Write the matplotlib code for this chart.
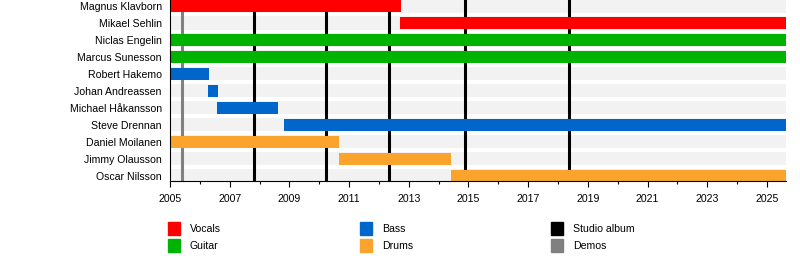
import matplotlib
matplotlib.use("Agg")
import matplotlib.pyplot as plt
from matplotlib.patches import Rectangle
from matplotlib.ticker import MultipleLocator

plt.rcParams['font.family'] = ['Liberation Sans', 'DejaVu Sans']
plt.rcParams['font.size'] = 8

# data
members = ["Magnus Klavborn", "Mikael Sehlin", "Niclas Engelin", "Marcus Sunesson",
           "Robert Hakemo", "Johan Andreassen", "Michael Håkansson", "Steve Drennan",
           "Daniel Moilanen", "Jimmy Olausson", "Oscar Nilsson"]
starts = [2005.0, 2012.72, 2005.0, 2005.0, 2005.0, 2006.28, 2006.58, 2008.83,
          2005.0, 2010.65, 2014.4]
ends = [2012.74, 2025.64, 2025.64, 2025.64, 2006.3, 2006.6, 2008.62, 2025.64,
        2010.67, 2014.43, 2025.64]
roles = ["Vocals", "Vocals", "Guitar", "Guitar", "Bass", "Bass", "Bass", "Bass",
         "Drums", "Drums", "Drums"]
albums = [2007.83, 2010.22, 2012.35, 2014.9, 2018.37]
demos = [2005.4]
start_year = 2005.0
end_year = 2025.64

role_colors = {"Vocals": "#ff0000", "Guitar": "#00b300", "Bass": "#0066cc", "Drums": "#fba42d"}

fig = plt.figure(figsize=(8, 2.6), dpi=100)
ax = fig.add_axes([170 / 800, (260 - 181) / 260, (786 - 170) / 800, 181 / 260])

n = len(members)
# background stripes
for i in range(n):
    ax.barh(i, end_year - start_year, left=start_year, height=0.78, color="#f2f2f2", zorder=0)

for x in albums:
    ax.axvline(x, color="black", lw=2.2, zorder=1)
for x in demos:
    ax.axvline(x, color="#808080", lw=2.2, zorder=1)

for i in range(n):
    ax.barh(i, ends[i] - starts[i], left=starts[i], height=0.71,
            color=role_colors[roles[i]], zorder=2)

ax.set_xlim(start_year, end_year)
ax.set_ylim(10.32, -0.354)
ax.set_yticks(range(n))
ax.set_yticklabels(members, fontsize=7.6)
ax.tick_params(axis="y", length=0, pad=6)
ax.xaxis.set_major_locator(MultipleLocator(2))
ax.xaxis.set_minor_locator(MultipleLocator(1))
ax.tick_params(axis="x", which="major", length=4, width=0.8, pad=5, labelsize=7.6)
ax.tick_params(axis="x", which="minor", length=2.5, width=0.8)
ax.set_xticks(range(2005, 2026, 2))
ax.spines["top"].set_visible(False)
ax.spines["right"].set_visible(False)

# legend
legend_items = [("Vocals", "#ff0000"), ("Guitar", "#00b300"),
                ("Bass", "#0066cc"), ("Drums", "#fba42d"),
                ("Studio album", "#000000"), ("Demos", "#808080")]
col_x = [168, 360, 551]
row_y = [222, 239]
for k, (label, color) in enumerate(legend_items):
    x0 = col_x[k // 2]
    y0 = row_y[k % 2]
    fig.patches.append(Rectangle((x0 / 800, 1 - (y0 + 13) / 260), 12 / 800, 13 / 260,
                                 transform=fig.transFigure, color=color, figure=fig))
    fig.text((x0 + 22) / 800, 1 - (y0 + 7) / 260, label, va="center", ha="left",
             fontsize=7.6)

fig.savefig("out.png", dpi=100)
